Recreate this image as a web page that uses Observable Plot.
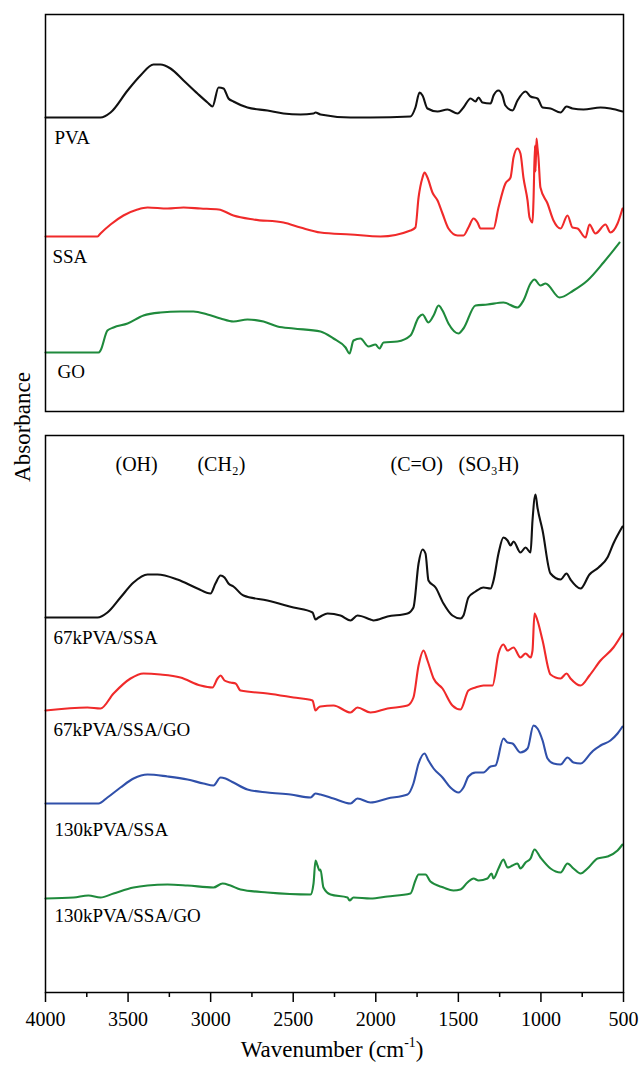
<!DOCTYPE html>
<html><head><meta charset="utf-8">
<script src="https://cdn.jsdelivr.net/npm/d3@7"></script>
<script src="https://cdn.jsdelivr.net/npm/@observablehq/plot@0.6"></script>
<style>
body{margin:0;background:#fff;}
#wrap{position:relative;width:639px;height:1065px;font-family:"Liberation Serif","Times New Roman","DejaVu Serif",serif;color:#000;}
#top{position:absolute;left:0;top:0;}
#bottom{position:absolute;left:0;top:420px;}
#ylab{position:absolute;left:22px;top:427px;transform:translate(-50%,-50%) rotate(-90deg);font-size:23px;white-space:nowrap;line-height:1;}
#xlab{position:absolute;left:332px;top:1038px;transform:translateX(-50%);font-size:23px;white-space:nowrap;line-height:1;}
#xlab sup{font-size:0.6em;line-height:0;vertical-align:0.75em;}
</style></head>
<body><div id="wrap"><div id="top"></div><div id="bottom"></div>
<div id="ylab">Absorbance</div>
<div id="xlab">Wavenumber (cm<sup>-1</sup>)</div></div>
<script>
// ---- data: [wavenumber (cm-1), absorbance (a.u., stacked offset)] ----
const pva = [[4000,294],[3667,294],[3606,299],[3503,321],[3425,336],[3346,347],[3304,347],[3243,343],[3164,331],[3080,318],[3019,309],[2989,305],[2952,324],[2922,323],[2892,313],[2862,310],[2777,304],[2656,301],[2559,298],[2456,297],[2377,298],[2365,299],[2335,297],[2153,294],[2032,294],[1790,295],[1760,304],[1735,319],[1717,316],[1687,303],[1626,300],[1566,302],[1505,298],[1469,304],[1426,313],[1396,310],[1378,314],[1354,309],[1305,308],[1287,316],[1257,321],[1233,316],[1215,306],[1172,301],[1142,311],[1093,320],[1063,315],[1021,313],[990,304],[942,303],[881,299],[845,305],[809,303],[742,302],[639,304],[579,303],[506,300]];
const ssa = [[4000,175],[3685,175],[3667,178],[3606,187],[3528,196],[3443,202],[3382,204],[3261,203],[3164,204],[3061,203],[2952,202],[2862,196],[2740,192],[2559,189],[2456,184],[2335,179],[2153,177],[1971,175],[1790,181],[1760,184],[1741,214],[1717,234],[1705,239],[1687,234],[1657,219],[1626,211],[1596,198],[1560,183],[1505,176],[1469,176],[1439,184],[1408,193],[1384,189],[1366,183],[1287,183],[1257,204],[1215,228],[1184,234],[1166,254],[1142,263],[1124,258],[1106,234],[1081,211],[1069,194],[1051,189],[1045,211],[1036,266],[1033,240],[1027,273],[1021,264],[1015,254],[1003,224],[960,208],[924,191],[881,183],[839,196],[809,184],[778,183],[730,174],[706,187],[670,178],[609,187],[579,179],[536,188],[506,203]];
const go = [[4000,59],[3679,59],[3667,61],[3625,81],[3588,84],[3503,88],[3407,96],[3304,99],[3183,100],[3104,100],[3019,97],[2940,93],[2862,90],[2777,92],[2680,90],[2595,85],[2498,83],[2335,80],[2256,73],[2183,64],[2159,58],[2135,71],[2093,73],[2044,65],[2002,67],[1978,63],[1953,69],[1869,70],[1790,76],[1741,94],[1717,97],[1681,89],[1650,96],[1620,106],[1596,101],[1560,88],[1499,78],[1469,83],[1396,106],[1324,107],[1227,109],[1142,104],[1106,111],[1063,128],[1039,132],[1003,126],[972,128],[887,114],[803,121],[718,131],[621,149],[524,169]];
const pva67Ssa = [[4000,375],[3685,375],[3625,380],[3546,395],[3467,410],[3382,418],[3322,418],[3201,413],[3080,404],[3001,399],[2971,409],[2940,417],[2916,415],[2892,409],[2862,406],[2801,397],[2656,392],[2498,385],[2383,380],[2365,373],[2347,375],[2335,376],[2292,379],[2214,377],[2153,372],[2111,377],[2032,373],[2014,372],[1929,376],[1808,379],[1772,385],[1741,429],[1717,443],[1699,439],[1681,412],[1638,405],[1590,389],[1536,377],[1487,374],[1469,377],[1439,395],[1396,401],[1348,405],[1305,404],[1287,412],[1257,439],[1227,455],[1202,452],[1184,447],[1166,451],[1124,440],[1093,445],[1063,440],[1051,472],[1033,498],[1021,485],[990,462],[942,419],[881,413],[845,419],[821,413],[760,404],[706,418],[651,425],[597,435],[561,449],[506,466]];
const pva67SsaGo = [[4000,282],[3746,285],[3667,284],[3588,299],[3485,314],[3407,319],[3304,318],[3183,315],[3061,307],[2989,305],[2958,314],[2940,317],[2916,312],[2880,310],[2849,309],[2819,302],[2656,299],[2498,295],[2383,292],[2365,282],[2347,285],[2335,286],[2256,287],[2153,280],[2111,285],[2032,280],[1929,284],[1808,287],[1772,295],[1741,327],[1711,342],[1687,332],[1650,314],[1596,304],[1536,287],[1487,283],[1439,302],[1396,305],[1348,307],[1293,307],[1257,339],[1227,348],[1202,342],[1166,345],[1124,335],[1093,339],[1063,335],[1051,342],[1039,379],[1021,372],[990,352],[942,318],[881,314],[845,319],[821,314],[760,307],[706,317],[639,332],[561,345],[506,359]];
const pva130Ssa = [[4000,189],[3679,189],[3625,195],[3546,205],[3467,214],[3382,218],[3261,216],[3140,213],[3043,209],[2983,207],[2940,215],[2910,214],[2862,210],[2777,203],[2656,200],[2516,198],[2395,195],[2365,199],[2335,198],[2256,194],[2153,189],[2111,194],[2032,190],[1929,194],[1808,198],[1772,209],[1741,229],[1705,239],[1681,232],[1650,224],[1596,215],[1548,205],[1499,200],[1469,205],[1439,216],[1396,220],[1348,220],[1305,226],[1275,227],[1227,254],[1202,250],[1172,249],[1124,240],[1081,244],[1045,267],[1021,264],[990,252],[960,234],[924,229],[881,228],[839,235],[803,230],[760,229],[700,239],[682,242],[639,247],[579,252],[536,259],[506,266]];
const pva130SsaGo = [[4000,94],[3830,95],[3740,97],[3667,95],[3588,99],[3467,105],[3382,107],[3261,108],[3140,107],[2983,105],[2928,109],[2880,107],[2819,103],[2656,100],[2395,98],[2377,109],[2365,132],[2353,127],[2341,122],[2335,123],[2317,105],[2274,98],[2171,95],[2159,92],[2135,95],[2032,94],[1929,96],[1790,99],[1760,112],[1741,118],[1699,118],[1669,111],[1590,105],[1530,102],[1487,103],[1445,110],[1408,114],[1378,112],[1324,114],[1299,119],[1287,114],[1257,124],[1227,133],[1202,125],[1172,127],[1142,129],[1124,124],[1093,130],[1063,134],[1039,143],[1003,135],[942,124],[881,120],[839,129],[803,124],[760,119],[718,124],[657,134],[597,136],[536,142],[506,148]];

const topNames = ["PVA", "SSA", "GO"];
const topLabelW = [3946, 3958, 3927];
const topLabelA = [268, 149, 34];
const bottomNames = ["67kPVA/SSA", "67kPVA/SSA/GO", "130kPVA/SSA", "130kPVA/SSA/GO"];
const bottomLabelW = [3952, 3952, 3946, 3946];
const bottomLabelA = [349, 257, 157, 71];
const bandNames = ["(OH)", "(CH\u2082)", "(C=O)", "(SO\u2083H)"];
const bandW = [3576, 3080, 1911, 1499];
const bandA = [522, 522, 522, 522];
const majorTicks = [4000, 3500, 3000, 2500, 2000, 1500, 1000, 500];
const minorTicks = [3750, 3250, 2750, 2250, 1750, 1250, 750];

const FONT = '"Liberation Serif","Times New Roman","DejaVu Serif",serif';
const BLACK = "#111", RED = "#f02a2a", GREEN = "#1f8a3c", BLUE = "#3050aa";
const lineOpts = (c) => ({x: d => d[0], y: d => d[1], stroke: c, strokeWidth: 2.1, strokeLinejoin: "round", curve: "monotone-x"});
const lbl = (names, ws, as) => names.map((t, i) => ({t, w: ws[i], a: as[i]}));

const topPlot = Plot.plot({
  width: 639, height: 420, marginTop: 14, marginBottom: 9, marginLeft: 45, marginRight: 16,
  x: {domain: [4000, 500], axis: null},
  y: {domain: [0, 397], axis: null},
  style: {fontFamily: FONT, background: "white", overflow: "visible"},
  marks: [
    Plot.line(pva, lineOpts(BLACK)),
    Plot.line(ssa, lineOpts(RED)),
    Plot.line(go, lineOpts(GREEN)),
    Plot.text(lbl(topNames, topLabelW, topLabelA), {x: "w", y: "a", text: "t", textAnchor: "start", lineAnchor: "bottom", fontSize: 19, fontFamily: FONT, fill: "#000"}),
    Plot.frame({stroke: "#000", strokeWidth: 1.5})
  ]
});
document.getElementById("top").appendChild(topPlot);

const bottomPlot = Plot.plot({
  width: 639, height: 645, marginTop: 15, marginBottom: 73, marginLeft: 45, marginRight: 16,
  x: {domain: [4000, 500], label: null},
  y: {domain: [0, 557], axis: null},
  style: {fontFamily: FONT, background: "white", overflow: "visible"},
  marks: [
    Plot.line(pva67Ssa, lineOpts(BLACK)),
    Plot.line(pva67SsaGo, lineOpts(RED)),
    Plot.line(pva130Ssa, lineOpts(BLUE)),
    Plot.line(pva130SsaGo, lineOpts(GREEN)),
    Plot.text(lbl(bottomNames, bottomLabelW, bottomLabelA), {x: "w", y: "a", text: "t", textAnchor: "start", lineAnchor: "bottom", fontSize: 19, fontFamily: FONT, fill: "#000"}),
    Plot.text(lbl(bandNames, bandW, bandA), {x: "w", y: "a", text: "t", textAnchor: "start", lineAnchor: "bottom", fontSize: 20, fontFamily: FONT, fill: "#000"}),
    Plot.axisX({ticks: minorTicks, tickSize: 5, tickFormat: () => "", stroke: "#000", strokeWidth: 1.5, label: null}),
    Plot.axisX({ticks: majorTicks, tickSize: 10, tickPadding: 9, tickFormat: d => String(d), fontSize: 20, fontFamily: FONT, fill: "#000", stroke: "#000", strokeWidth: 1.5, label: null}),
    Plot.frame({stroke: "#000", strokeWidth: 1.5})
  ]
});
document.getElementById("bottom").appendChild(bottomPlot);
</script></body></html>
